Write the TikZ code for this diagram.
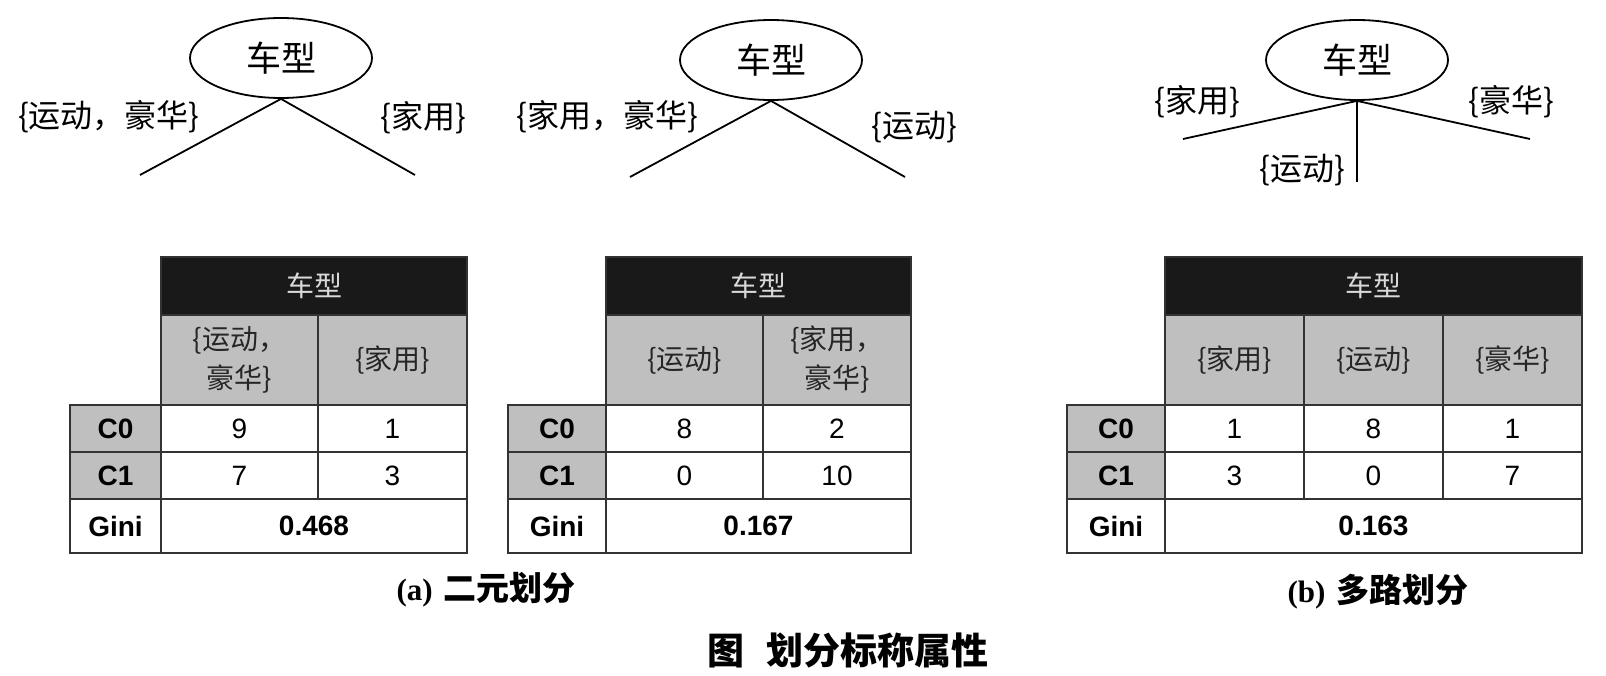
\documentclass[tikz,border=0pt]{standalone}
\usepackage{fontspec}
\setmainfont{Liberation Serif}
\newfontfamily\cjk{Noto Sans CJK SC}
\newfontfamily\arial{Liberation Sans}
\usetikzlibrary{shapes.geometric}
\newcommand\tcell[7]{\node[#1, minimum width=#5pt, minimum height=#6pt] (#2) at (#3,#4) {#7};}
\begin{document}
\begin{tikzpicture}[x=1pt,y=-1pt,
  cell/.style={draw=black!80, line width=1.4pt, inner sep=0pt, align=center, fill=white,
    font=\arial\fontsize{28}{32}\selectfont},
  hdr/.style={cell, fill=black!90, text=black!15, font=\cjk\fontsize{28}{32}\selectfont},
  sub/.style={cell, fill=gray!50, text=black!85, font=\cjk\fontsize{28}{39}\selectfont},
  lab/.style={cell, fill=gray!50, font=\arial\bfseries\fontsize{28}{32}\selectfont},
  gin/.style={cell, font=\arial\bfseries\fontsize{28}{32}\selectfont},
  val/.style={cell},
  root/.style={ellipse, draw, line width=1.8pt, inner sep=0pt, minimum width=182pt, minimum height=80pt,
    font=\cjk\fontsize{35}{38}\selectfont},
  branch/.style={line width=1.8pt},
  blab/.style={font=\cjk\fontsize{32}{36}\selectfont, inner sep=0pt},
  captext/.style={font=\fontsize{31}{36}\selectfont, inner sep=0pt}
]
\useasboundingbox (0,0) rectangle (1606,676);
\fill[white] (0,0) rectangle (1606,676);

% ---------- trees ----------
\node[root] (e1) at (281,58) {车型};
\coordinate (e1l) at (140,175);
\coordinate (e1r) at (415,175);
\draw[branch] (e1.south) -- (e1l);
\draw[branch] (e1.south) -- (e1r);
\node[blab] (t1l) at (109,117) {\{运动，豪华\}};
\node[blab] (t1r) at (423,118) {\{家用\}};

\node[root] (e2) at (771,60) {车型};
\coordinate (e2l) at (630,177);
\coordinate (e2r) at (905,177);
\draw[branch] (e2.south) -- (e2l);
\draw[branch] (e2.south) -- (e2r);
\node[blab] (t2l) at (607,117) {\{家用，豪华\}};
\node[blab] (t2r) at (914,127) {\{运动\}};

\node[root] (e3) at (1357,60) {车型};
\coordinate (e3l) at (1183,139);
\coordinate (e3r) at (1530,139);
\coordinate (e3m) at (1357,182);
\draw[branch] (e3.south) -- (e3l);
\draw[branch] (e3.south) -- (e3r);
\draw[branch] (e3.south) -- (e3m);
\node[blab] (t3l) at (1197,102) {\{家用\}};
\node[blab] (t3r) at (1511,102) {\{豪华\}};
\node[blab] (t3m) at (1302,170) {\{运动\}};

% ---------- table 1 ----------
\tcell{hdr}{a-h}{314}{286}{306}{58}{车型}
\tcell{sub}{a-s1}{239.5}{360}{157}{90}{\{运动，\\豪华\}}
\tcell{sub}{a-s2}{392.5}{360}{149}{90}{\{家用\}}
\tcell{lab}{a-c0}{115.5}{428.5}{91}{47}{C0}
\tcell{lab}{a-c1}{115.5}{475.5}{91}{47}{C1}
\tcell{gin}{a-g}{115.5}{526}{91}{54}{Gini}
\tcell{val}{a-11}{239.5}{428.5}{157}{47}{9}
\tcell{val}{a-12}{392.5}{428.5}{149}{47}{1}
\tcell{val}{a-21}{239.5}{475.5}{157}{47}{7}
\tcell{val}{a-22}{392.5}{475.5}{149}{47}{3}
\tcell{gin}{a-gv}{314}{526}{306}{54}{0.468}

% ---------- table 2 ----------
\tcell{hdr}{b-h}{758.5}{286}{305}{58}{车型}
\tcell{sub}{b-s1}{684.5}{360}{157}{90}{\{运动\}}
\tcell{sub}{b-s2}{837}{360}{148}{90}{\{家用，\\豪华\}}
\tcell{lab}{b-c0}{557}{428.5}{98}{47}{C0}
\tcell{lab}{b-c1}{557}{475.5}{98}{47}{C1}
\tcell{gin}{b-g}{557}{526}{98}{54}{Gini}
\tcell{val}{b-11}{684.5}{428.5}{157}{47}{8}
\tcell{val}{b-12}{837}{428.5}{148}{47}{2}
\tcell{val}{b-21}{684.5}{475.5}{157}{47}{0}
\tcell{val}{b-22}{837}{475.5}{148}{47}{10}
\tcell{gin}{b-gv}{758.5}{526}{305}{54}{0.167}

% ---------- table 3 ----------
\tcell{hdr}{c-h}{1373.5}{286}{417}{58}{车型}
\tcell{sub}{c-s1}{1234.5}{360}{139}{90}{\{家用\}}
\tcell{sub}{c-s2}{1373.5}{360}{139}{90}{\{运动\}}
\tcell{sub}{c-s3}{1512.5}{360}{139}{90}{\{豪华\}}
\tcell{lab}{c-c0}{1116}{428.5}{98}{47}{C0}
\tcell{lab}{c-c1}{1116}{475.5}{98}{47}{C1}
\tcell{gin}{c-g}{1116}{526}{98}{54}{Gini}
\tcell{val}{c-11}{1234.5}{428.5}{139}{47}{1}
\tcell{val}{c-12}{1373.5}{428.5}{139}{47}{8}
\tcell{val}{c-13}{1512.5}{428.5}{139}{47}{1}
\tcell{val}{c-21}{1234.5}{475.5}{139}{47}{3}
\tcell{val}{c-22}{1373.5}{475.5}{139}{47}{0}
\tcell{val}{c-23}{1512.5}{475.5}{139}{47}{7}
\tcell{gin}{c-gv}{1373.5}{526}{417}{54}{0.163}

% ---------- captions ----------
\node[captext] (capa) at (486,590) {\textbf{(a)}\hspace{0.35em}{\cjk\bfseries\fontsize{33}{36}\selectfont 二元划分}};
\node[captext] (capb) at (1378,592) {\textbf{(b)}\hspace{0.35em}{\cjk\bfseries\fontsize{33}{36}\selectfont 多路划分}};
\node[captext, anchor=west, font=\cjk\bfseries\fontsize{37}{42}\selectfont] (capm) at (707,650) {图\hspace{0.6em}划分标称属性};
\end{tikzpicture}
\end{document}
